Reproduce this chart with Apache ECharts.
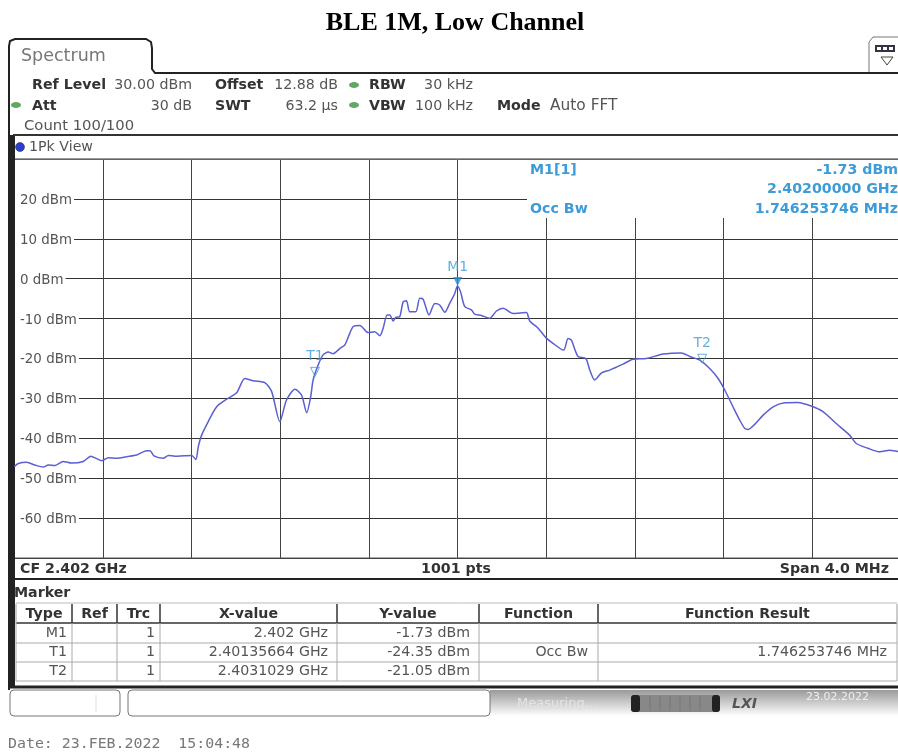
<!DOCTYPE html>
<html lang="en">
  <head>
    <meta charset="UTF-8" />
    <title>BLE 1M, Low Channel</title>
    <script src="https://cdn.jsdelivr.net/npm/echarts@6/dist/echarts.min.js"></script>
    <style>
      html, body { margin: 0; padding: 0; background: #fff; }
      /* the reference is a soft screenshot */
      #main { filter: blur(0.4px); }
    </style>
  </head>
  <body>
    <div id="main" style="width: 898px; height: 753px"></div>
    <script type="text/javascript">
      // Trace: frequency in MHz above 2400, level in dBm
      let traceFreq = [
        0.000, 0.018, 0.056, 0.093, 0.131, 0.153, 0.184, 0.221, 0.259, 0.311, 0.345, 0.372, 0.394, 0.424, 0.462,
        0.507, 0.552, 0.597, 0.612, 0.630, 0.672, 0.695, 0.725, 0.800, 0.819, 0.830, 0.845, 0.875, 0.913, 0.958,
        1.003, 1.040, 1.078, 1.131, 1.161, 1.198, 1.228, 1.266, 1.296, 1.319, 1.337, 1.348, 1.371, 1.393, 1.416,
        1.438, 1.468, 1.491, 1.506, 1.529, 1.559, 1.596, 1.626, 1.649, 1.664, 1.682, 1.694, 1.709, 1.721, 1.739,
        1.754, 1.769, 1.784, 1.811, 1.829, 1.844, 1.871, 1.897, 1.919, 1.942, 1.964, 1.987, 1.999, 2.013, 2.032,
        2.062, 2.077, 2.107, 2.145, 2.175, 2.205, 2.250, 2.310, 2.325, 2.363, 2.397, 2.430, 2.478, 2.498, 2.513,
        2.543, 2.578, 2.596, 2.618, 2.649, 2.686, 2.746, 2.791, 2.851, 2.927, 3.009, 3.047, 3.092, 3.137, 3.175,
        3.205, 3.242, 3.272, 3.295, 3.310, 3.340, 3.378, 3.423, 3.475, 3.535, 3.595, 3.648, 3.708, 3.768, 3.798,
        3.851, 3.904, 3.949, 3.985, 4.000,
      ]
      let traceLevel = [
        -47.1, -46.3, -46.0, -46.7, -47.2, -46.7, -46.8, -45.8, -46.2, -45.8, -44.5, -45.1, -45.6, -44.9, -45.0,
        -44.6, -44.2, -43.1, -43.1, -44.4, -45.0, -44.3, -44.5, -44.3, -45.3, -42.1, -39.2, -35.8, -32.1, -30.2,
        -28.6, -25.0, -25.6, -26.1, -28.3, -35.8, -30.4, -27.7, -29.2, -33.6, -29.6, -25.4, -21.6, -19.1, -18.4,
        -18.8, -17.5, -16.6, -14.7, -12.0, -11.7, -13.5, -13.3, -14.3, -12.4, -9.1, -9.1, -10.6, -9.7, -9.5,
        -5.8, -5.5, -8.3, -8.3, -4.9, -5.1, -9.1, -6.2, -6.6, -8.4, -6.2, -3.7, -1.8, -3.3, -7.0,
        -7.8, -8.9, -9.2, -9.9, -8.1, -7.4, -8.7, -8.5, -10.6, -12.4, -14.7, -16.2, -17.9, -15.0, -15.4,
        -19.5, -20.0, -22.9, -25.4, -23.6, -22.9, -21.4, -20.2, -20.0, -18.9, -18.6, -19.5, -20.4, -22.5, -25.0,
        -27.9, -32.1, -35.4, -37.5, -37.8, -36.5, -34.2, -32.1, -31.1, -31.0, -31.9, -33.3, -36.3, -39.2, -41.3,
        -42.5, -43.4, -43.0, -43.3, -43.4,
      ]

      let yTickValues = [20, 10, 0, -10, -20, -30, -40, -50, -60]
      let yTickLabels = ["20 dBm", "10 dBm", "0 dBm", "-10 dBm", "-20 dBm", "-30 dBm", "-40 dBm", "-50 dBm", "-60 dBm"]

      let markerNames = ["M1", "T1", "T2"]
      let markerFreq = [2.0, 1.35664, 3.1029]
      let markerLevel = [-1.73, -24.35, -21.05]

      let tableHeader = ["Type", "Ref", "Trc", "X-value", "Y-value", "Function", "Function Result"]
      let tableRows = [
        ["M1", "", "1", "2.402 GHz", "-1.73 dBm", "", ""],
        ["T1", "", "1", "2.40135664 GHz", "-24.35 dBm", "Occ Bw", "1.746253746 MHz"],
        ["T2", "", "1", "2.4031029 GHz", "-21.05 dBm", "", ""],
      ]

      let sans = "DejaVu Sans"
      let cyan = "#3d9bd8"
      let grey = "#555"

      // little helpers for the instrument screen around the plot
      function txt(x, y, text, o) {
        o = o || {}
        return {
          type: "text", x: x, y: y + 1, z: o.z || 5, silent: true,
          style: {
            text: text, fill: o.color || grey, fontFamily: o.font || sans, fontSize: o.size || 14.2,
            fontWeight: o.bold ? "bold" : "normal", fontStyle: o.italic ? "italic" : "normal",
            align: o.align || "left", verticalAlign: "middle",
          },
        }
      }
      function hline(x1, x2, y, color, w) {
        return { type: "line", z: 4, silent: true, shape: { x1: x1, y1: y, x2: x2, y2: y }, style: { stroke: color, lineWidth: w } }
      }
      function vline(x, y1, y2, color, w) {
        return { type: "line", z: 4, silent: true, shape: { x1: x, y1: y1, x2: x, y2: y2 }, style: { stroke: color, lineWidth: w } }
      }
      function box(x, y, w, h, fill, stroke, r, lw) {
        return {
          type: "rect", z: 3, silent: true, shape: { x: x, y: y, width: w, height: h, r: r || 0 },
          style: { fill: fill, stroke: stroke || null, lineWidth: lw || 1 },
        }
      }
      function led(x, y) {
        return { type: "ellipse", z: 5, silent: true, shape: { cx: x, cy: y, rx: 5, ry: 3 }, style: { fill: "#62a862" } }
      }

      let graphics = [
        // white block behind the marker readout, hides the grid there
        box(527, 160, 374, 58, "#fff"),

        // tab and frame
        { type: "polyline", z: 4, silent: true,
          shape: { points: [[9, 690], [9, 46], [10, 41], [15, 39], [146, 39], [151, 42], [152, 48], [152, 69], [155, 73], [898, 73]] },
          style: { stroke: "#222", lineWidth: 2, fill: null } },
        hline(13, 898, 135, "#333", 2),
        hline(15, 898, 159, "#777", 1.5),
        hline(15, 898, 558, "#555", 1),
        box(9.5, 135, 5.5, 552, "#222"),
        hline(14, 898, 579, "#222", 2),
        hline(10, 898, 687, "#222", 3),

        // softkey icon at top right
        { type: "polyline", z: 4, silent: true,
          shape: { points: [[869, 72], [869, 42], [873, 37], [898, 37]] }, style: { stroke: "#777", lineWidth: 1, fill: null } },
        box(875, 45, 20, 7, "#334"),
        box(877, 47, 4, 3, "#fff"),
        box(883, 47, 4, 3, "#fff"),
        box(889, 47, 4, 3, "#fff"),
        { type: "polygon", z: 4, silent: true, shape: { points: [[881, 57], [893, 57], [887, 65]] }, style: { fill: "#fff", stroke: "#444", lineWidth: 1 } },

        txt(21, 55, "Spectrum", { size: 17.5, color: "#777" }),

        // settings
        txt(32, 84, "Ref Level", { bold: true, color: "#333" }),
        txt(192, 84, "30.00 dBm", { align: "right" }),
        txt(215, 84, "Offset", { bold: true, color: "#333" }),
        txt(338, 84, "12.88 dB", { align: "right" }),
        led(354, 85),
        txt(369, 84, "RBW", { bold: true, color: "#333" }),
        txt(473, 84, "30 kHz", { align: "right" }),
        led(16, 105),
        txt(32, 105, "Att", { bold: true, color: "#333" }),
        txt(192, 105, "30 dB", { align: "right" }),
        txt(215, 105, "SWT", { bold: true, color: "#333" }),
        txt(338, 105, "63.2 µs", { align: "right" }),
        led(354, 105),
        txt(369, 105, "VBW", { bold: true, color: "#333" }),
        txt(473, 105, "100 kHz", { align: "right" }),
        txt(497, 105, "Mode", { bold: true, color: "#333" }),
        txt(550, 105, "Auto FFT", { size: 15.4 }),
        txt(24, 125, "Count 100/100", { size: 14.8 }),

        { type: "circle", z: 5, silent: true, shape: { cx: 20, cy: 147, r: 4.5 }, style: { fill: "#2a3fd0", stroke: "#223", lineWidth: 0.5 } },
        txt(29, 146, "1Pk View"),

        // marker readout
        txt(530, 169, "M1[1]", { bold: true, color: cyan }),
        txt(898, 169, "-1.73 dBm", { bold: true, color: cyan, align: "right" }),
        txt(898, 188, "2.40200000 GHz", { bold: true, color: cyan, align: "right" }),
        txt(530, 208, "Occ Bw", { bold: true, color: cyan }),
        txt(898, 208, "1.746253746 MHz", { bold: true, color: cyan, align: "right" }),

        // below the plot
        txt(20, 568, "CF 2.402 GHz", { bold: true, color: "#333" }),
        txt(456, 568, "1001 pts", { bold: true, color: "#333", align: "center" }),
        txt(889, 568, "Span 4.0 MHz", { bold: true, color: "#333", align: "right" }),
        txt(14, 592, "Marker", { bold: true, color: "#333" }),

        // footer strip
        box(490, 690, 408, 26, new echarts.graphic.LinearGradient(0, 0, 0, 1, [
          { offset: 0, color: "#9a9a9a" }, { offset: 1, color: "#fff" },
        ])),
        box(10, 690, 110, 26, "#fff", "#777", 4),
        box(128, 690, 362, 26, "#fff", "#777", 4),
        vline(96, 695, 712, "#ddd", 1),
        box(631, 695, 89, 17, "#888", null, 4),
        box(631, 695, 9, 17, "#222", null, 3),
        box(712, 695, 8, 17, "#222", null, 3),
        vline(650, 696, 711, "#777", 1),
        vline(660, 696, 711, "#777", 1),
        vline(670, 696, 711, "#777", 1),
        vline(680, 696, 711, "#777", 1),
        vline(690, 696, 711, "#777", 1),
        vline(700, 696, 711, "#777", 1),
        txt(732, 703, "LXI", { bold: true, italic: true, size: 14, color: "#555" }),
        txt(517, 703, "Measuring...", { size: 13, color: "#e4e4e4" }),
        txt(806, 696, "23.02.2022", { size: 11, color: "#eee" }),
        txt(8, 743, "Date: 23.FEB.2022  15:04:48", { font: "DejaVu Sans Mono", size: 14.9, color: "#777" }),
      ]

      // marker table
      let colEdges = [16, 72, 117, 160, 337, 479, 598, 897]
      let colRight = [67, 0, 155, 328, 470, 588, 887]
      let rowEdges = [604, 623, 643, 662, 681]
      graphics.push(hline(16, 897, 603, "#bbb", 1))
      rowEdges.slice(1).forEach((y, i) => {
        graphics.push(hline(16, 897, y, i == 0 ? "#333" : "#aaa", i == 0 ? 1.5 : 1))
      })
      colEdges.forEach((x, i) => {
        graphics.push(vline(x, 604, 623, i == 0 || i == 7 ? "#bbb" : "#333", 1.5))
        graphics.push(vline(x, 623, 681, "#aaa", 1))
      })
      tableHeader.forEach((t, i) => {
        graphics.push(txt((colEdges[i] + colEdges[i + 1]) / 2, 613, t, { bold: true, color: "#333", align: "center" }))
      })
      tableRows.forEach((row, r) => {
        row.forEach((t, i) => {
          if (t) graphics.push(txt(colRight[i], 632 + r * 19.2, t, { align: "right" }))
        })
      })

      let options = {
        animation: false,
        backgroundColor: "#fff",
        title: {
          text: "BLE 1M, Low Channel", left: 450, top: 5, textAlign: "center",
          textStyle: { fontFamily: "Liberation Serif", fontWeight: "bold", fontSize: 26, color: "#000" },
        },
        grid: { left: 14.3, top: 159, width: 886.7, height: 399, outerBoundsMode: "none" },
        xAxis: {
          type: "value", min: 0, max: 4, interval: 0.4,
          axisLabel: { show: false }, axisTick: { show: false }, axisLine: { show: false },
          splitLine: { lineStyle: { color: "#444", width: 1 } },
        },
        yAxis: {
          type: "value", min: -70, max: 30, interval: 10,
          axisTick: { show: false }, axisLine: { show: false }, axisLabel: { show: false },
          splitLine: { lineStyle: { color: "#333", width: 1 } },
        },
        graphic: graphics,
        series: [
          {
            name: "1Pk View",
            type: "line",
            showSymbol: false,
            smooth: 0.25,
            lineStyle: { color: "#5a5fd2", width: 1.5 },
            data: traceFreq.map((f, i) => [f, traceLevel[i]]),
            z: 3,
          },
          {
            name: "Markers",
            type: "scatter",
            symbol: "triangle",
            symbolRotate: 180,
            symbolSize: 9,
            symbolOffset: [0, -4],
            z: 4,
            label: {
              show: true, position: "top", distance: 3, formatter: "{b}",
              color: cyan, fontFamily: sans, fontSize: 14,
            },
            data: markerNames.map((n, i) => ({
              name: n,
              value: [markerFreq[i], markerLevel[i]],
              itemStyle: n == "M1"
                ? { color: "#1f8fd6" }
                : { color: "rgba(255,255,255,0)", borderColor: cyan, borderWidth: 1 },
            })),
          },
        ],
      };

      let myChart = echarts.init(document.getElementById("main"));
      myChart.setOption(options);

      // y labels sit inside the plot, centred on their grid line with a white patch behind
      // placed from the axis scale, the axis's own inside labels came out 2px high
      yTickValues.forEach((v, i) => {
        let el = txt(15, myChart.convertToPixel({ yAxisIndex: 0 }, v) + 0.5, yTickLabels[i], { size: 13.4 })
        el.style.backgroundColor = "#fff"
        el.style.padding = [2, 2, 2, 5]
        graphics.push(el)
      })
      myChart.setOption({ graphic: graphics });
    </script>
  </body>
</html>
